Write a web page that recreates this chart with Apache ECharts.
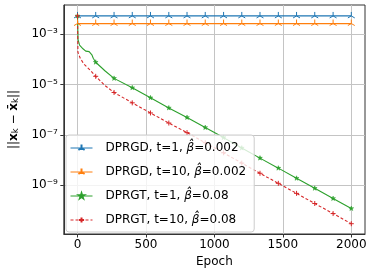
<!DOCTYPE html>
<html><head><meta charset="utf-8">
<script src="https://cdn.jsdelivr.net/npm/echarts@6/dist/echarts.min.js"></script>
<style>html,body{margin:0;padding:0;background:#fff}#c{width:374px;height:274px}</style>
</head><body><div id="c"></div>
<script>
const seriesNames = ['DPRGD, t=1, β̂=0.002', 'DPRGD, t=10, β̂=0.002', 'DPRGT, t=1, β̂=0.08', 'DPRGT, t=10, β̂=0.08'];
const markerEpochs = [0,133,267,400,533,667,800,933,1067,1200,1333,1467,1600,1733,1867,2000];
const dprgdT1Values = [5.2e-3,5.2e-3,5.2e-3,5.2e-3,5.2e-3,5.2e-3,5.2e-3,5.2e-3,5.2e-3,5.2e-3,5.2e-3,5.2e-3,5.2e-3,5.2e-3,5.2e-3,5.2e-3];
const dprgdT10Values = [2.6e-3,2.6e-3,2.6e-3,2.6e-3,2.6e-3,2.6e-3,2.6e-3,2.6e-3,2.6e-3,2.6e-3,2.6e-3,2.6e-3,2.6e-3,2.6e-3,2.6e-3,2.6e-3];
const dprgtT1Epochs = [0,4,15,40,60,85,105,115,133,200,267,400,533,667,800,933,1067,1200,1333,1467,1600,1733,1867,2000];
const dprgtT1Values = [5.2e-3,6.0e-4,3.6e-4,2.6e-4,2.1e-4,2.0e-4,1.5e-4,1.1e-4,7.6e-5,3.5e-5,1.74e-5,7.4e-6,2.95e-6,1.17e-6,4.9e-7,1.95e-7,7.8e-8,3.0e-8,1.2e-8,4.8e-9,1.9e-9,7.6e-10,3.0e-10,1.2e-10];
const dprgtT10Epochs = [0,3,20,46,90,133,200,267,400,533,667,800,933,1067,1200,1333,1467,1600,1733,1867,2000];
const dprgtT10Values = [5.2e-3,1.9e-4,1.1e-4,6.5e-5,3.8e-5,2.1e-5,9.1e-6,4.8e-6,1.86e-6,7.4e-7,2.95e-7,1.23e-7,4.9e-8,1.95e-8,7.6e-9,3.0e-9,1.2e-9,4.8e-10,1.9e-10,7.6e-11,3.0e-11];
const xTickValues = [0,500,1000,1500,2000];
const yTickValues = [1e-9,1e-7,1e-5,1e-3];
const colors = ['#1f77b4','#ff7f0e','#2ca02c','#d62728'];

const F = 'DejaVu Sans';
const triUp = 'path://M-1,-1M1,1M0,-1L0,0M0,0L-0.866,0.5M0,0L0.866,0.5';
const star = 'path://M-1.4,-1.4M1.4,1.4M0,-1L0.2245,-0.309L0.951,-0.309L0.363,0.118L0.588,0.809L0,0.382L-0.588,0.809L-0.363,0.118L-0.951,-0.309L-0.2245,-0.309Z';
const plus = 'path://M-1.4,-1.4M1.4,1.4M-1,0L1,0M0,-1L0,1';

function pairs(xs, ys) {
  return xs.map((x, i) => markerEpochs.indexOf(x) >= 0 ? [x, ys[i]] : {value: [x, ys[i]], symbol: 'none'});
}
const sup = {'-':'⁻','0':'⁰','1':'¹','2':'²','3':'³','4':'⁴','5':'⁵','6':'⁶','7':'⁷','8':'⁸','9':'⁹'};
function powLabel(v) {
  const e = Math.round(Math.log10(v));
  return '10' + String(e).split('').map(c => sup[c]).join('');
}

const chart = echarts.init(document.getElementById('c'), null, {renderer: 'canvas'});
chart.setOption({
  animation: false,
  textStyle: {fontFamily: F},
  grid: {left: 60, right: 9, top: 5, bottom: 40, show: true, borderColor: '#333', borderWidth: 1, containLabel: false},
  legend: {
    orient: 'vertical', left: 66, top: 135,
    itemWidth: 22, itemHeight: 9, itemGap: 12,
    padding: [7, 8, 6, 4],
    backgroundColor: 'rgba(255,255,255,0.8)', borderColor: '#cccccc', borderWidth: 1, borderRadius: 3,
    data: seriesNames,
    lineStyle: {width: 1},
    formatter: n => n.replace('β̂', '{i|β̂}'),
    textStyle: {fontFamily: F, fontSize: 12, color: '#000', padding: [0,0,0,8],
      rich: {i: {fontFamily: F, fontSize: 12, fontStyle: 'italic', color: '#000'}}}
  },
  xAxis: {
    type: 'value', min: -100, max: 2100,
    name: 'Epoch', nameLocation: 'middle', nameGap: 20,
    nameTextStyle: {fontFamily: F, fontSize: 12, color: '#000'},
    axisLine: {show: true, onZero: false, lineStyle: {color: '#333', width: 1}},
    axisTick: {show: true, length: 3.5, lineStyle: {color: '#333'}, customValues: xTickValues},
    axisLabel: {fontFamily: F, fontSize: 12, color: '#000', margin: 5, customValues: xTickValues, formatter: v => String(v)},
    splitLine: {show: true, lineStyle: {color: '#c4c4c4', width: 1}}
  },
  yAxis: {
    type: 'log', logBase: 10, min: Math.pow(10, -10.93), max: Math.pow(10, -1.85),
    name: '||{b|x}{s|k} − {b|x̄}{s|k}||', nameLocation: 'middle', nameGap: 41, nameRotate: 90,
    nameTextStyle: {fontFamily: F, fontSize: 12, color: '#000',
      rich: {b: {fontFamily: F, fontSize: 12, fontWeight: 'bold', color: '#000'},
             s: {fontFamily: F, fontSize: 8.5, color: '#000', verticalAlign: 'bottom', padding: [4,0,0,0]}}},
    axisLine: {show: true, onZero: false, lineStyle: {color: '#333', width: 1}},
    axisTick: {show: true, length: 3.5, lineStyle: {color: '#333'}, customValues: yTickValues},
    axisLabel: {fontFamily: F, fontSize: 12, color: '#000', margin: 6, customValues: yTickValues, formatter: powLabel},
    splitLine: {show: true, lineStyle: {color: '#c4c4c4', width: 1}},
    minorTick: {show: false}
  },
  series: [
    {name: seriesNames[0], type: 'line', data: pairs(markerEpochs, dprgdT1Values), color: colors[0],
     symbol: triUp, symbolSize: 8, showAllSymbol: true,
     lineStyle: {width: 1.2}, itemStyle: {color: colors[0], borderColor: colors[0], borderWidth: 1}},
    {name: seriesNames[1], type: 'line', data: pairs(markerEpochs, dprgdT10Values), color: colors[1],
     symbol: triUp, symbolSize: 8, showAllSymbol: true,
     lineStyle: {width: 1.2}, itemStyle: {color: colors[1], borderColor: colors[1], borderWidth: 1}},
    {name: seriesNames[2], type: 'line', data: pairs(dprgtT1Epochs, dprgtT1Values), color: colors[2],
     symbol: star, symbolSize: 7, showAllSymbol: true,
     lineStyle: {width: 1.1}, itemStyle: {color: colors[2], borderColor: colors[2], borderWidth: 0.5}},
    {name: seriesNames[3], type: 'line', data: pairs(dprgtT10Epochs, dprgtT10Values), color: colors[3],
     symbol: plus, symbolSize: 7, showAllSymbol: true,
     lineStyle: {width: 1.1, type: [3, 2]}, itemStyle: {color: colors[3], borderColor: colors[3], borderWidth: 1}}
  ]
});
</script></body></html>
